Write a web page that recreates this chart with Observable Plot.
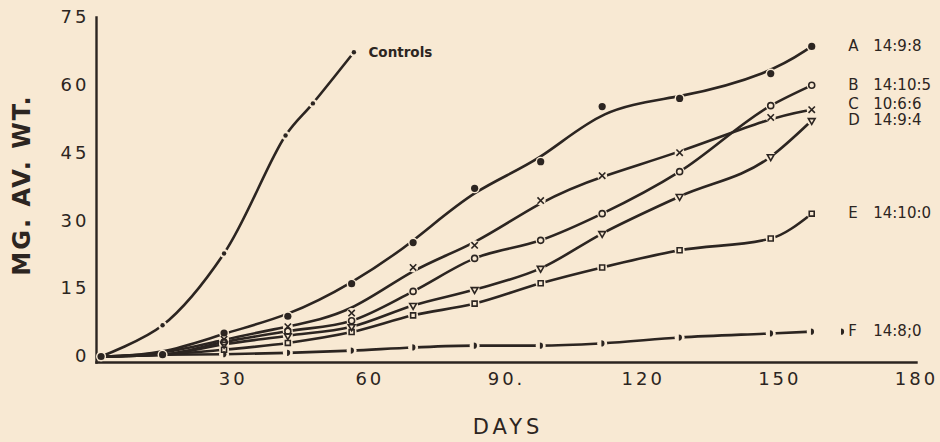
<!DOCTYPE html>
<html>
<head>
<meta charset="utf-8">
<script src="https://cdn.jsdelivr.net/npm/d3@7"></script>
<script src="https://cdn.jsdelivr.net/npm/@observablehq/plot@0.6"></script>
<style>
  html, body { margin: 0; padding: 0; background: #f8e9d3; }
  #chart { width: 940px; height: 442px; }
</style>
</head>
<body>
<div id="chart"></div>
<script>
// ---- data ----
const days = [1, 14.5, 28, 42, 56, 69.5, 83, 97.5, 111, 128, 148, 157];
const controlDays = [1, 14.5, 28, 41.5, 47.5, 56.5];
const controlWt = [0, 6.9, 22.8, 48.9, 56, 67.3];
const seriesNames = ["A", "B", "C", "D", "E", "F"];
const ratios = ["14:9:8", "14:10:5", "10:6:6", "14:9:4", "14:10:0", "14:8;0"];
const wtA = [0, 0.4, 5.2, 8.9, 16.1, 25.2, 37.2, 43.1, 55.3, 57.1, 62.6, 68.6];
const wtB = [0, 0.4, 3.2, 5.6, 7.9, 14.4, 21.7, 25.7, 31.6, 40.9, 55.5, 60.0];
const wtC = [0, 0.4, 3.8, 6.6, 9.6, 19.7, 24.6, 34.5, 40.0, 45.1, 52.9, 54.6];
const wtD = [0, 0.4, 2.7, 4.6, 6.6, 11.3, 14.8, 19.5, 27.2, 35.4, 44.2, 52.2];
const wtE = [0, 0.4, 1.5, 3.0, 5.4, 9.1, 11.7, 16.2, 19.7, 23.5, 26.1, 31.6];
const wtF = [0, 0.4, 0.5, 0.8, 1.3, 2.0, 2.4, 2.4, 2.9, 4.2, 5.1, 5.5];
const xTicks = [30, 60, 90, 120, 150, 180];
const yTicks = [0, 15, 30, 45, 60, 75];
const controlLabel = "Controls";

// ---- styling ----
const ink = "#2c2521";
const bg = "#f8e9d3";
const font = "DejaVu Sans, sans-serif";

const values = [wtA, wtB, wtC, wtD, wtE, wtF];
const rows = [];
seriesNames.forEach((s, k) => {
  days.forEach((d, i) => rows.push({series: s, day: d, wt: values[k][i], i}));
});
const controls = controlDays.map((d, i) => ({day: d, wt: controlWt[i]}));
const lastRows = seriesNames.map((s, k) => ({series: s, ratio: ratios[k], day: days[days.length - 1], wt: values[k][days.length - 1]}));

const markerRows = rows.filter(r => r.series === "A" || r.i >= 2);
const halfDisc = {
  draw(ctx, size) {
    const r = Math.sqrt(size / Math.PI);
    ctx.moveTo(-r * 0.3, -r * 1.2);
    ctx.arc(-r * 0.3, 0, r * 1.2, -Math.PI / 2, Math.PI / 2);
    ctx.closePath();
  }
};

const styleFor = {
  A: {symbol: "circle", r: 3.6, fill: ink, stroke: "none", curve: "basis"},
  B: {symbol: "circle", r: 3, fill: "none", stroke: ink, curve: "monotone-x"},
  C: {symbol: "times", r: 3.0, fill: "none", stroke: ink, curve: "basis"},
  D: {symbol: "triangle", r: 2.5, fill: "none", stroke: ink, rotate: 180, curve: "monotone-x"},
  E: {symbol: "square", r: 2.8, fill: "none", stroke: ink, curve: "monotone-x"},
  F: {symbol: halfDisc, r: 2.6, fill: ink, stroke: "none", curve: "monotone-x"}
};
const labelDy = {A: 0, B: 0, C: -6, D: 0, E: 0, F: 0};

const marks = [
  Plot.frame({anchor: "left", stroke: ink, strokeWidth: 2.4}),
  Plot.frame({anchor: "bottom", stroke: ink, strokeWidth: 2.4}),
  Plot.axisY({ticks: yTicks, tickSize: 0, tickPadding: 7, fontSize: 18, label: null,
    tickFormat: d => String(d)}),
  Plot.axisX({ticks: xTicks, tickSize: 0, tickPadding: 10, fontSize: 18, label: null,
    tickFormat: d => d === 90 ? "90." : String(d)}),
  Plot.line(controls, {x: "day", y: "wt", curve: "catmull-rom", stroke: ink, strokeWidth: 2.6}),
];
seriesNames.forEach(s => {
  marks.push(Plot.line(rows.filter(r => r.series === s), {x: "day", y: "wt", curve: styleFor[s].curve,
    stroke: ink, strokeWidth: 2.6}));
});
marks.push(
  Plot.dot(markerRows, {x: "day", y: "wt", r: 5, fill: bg, stroke: "none"}),
  Plot.dot(controls, {x: "day", y: "wt", r: 4.5, fill: bg, stroke: "none"}),
  Plot.dot(controls, {x: "day", y: "wt", r: 2.2, fill: ink, stroke: "none"})
);
seriesNames.forEach(s => {
  const st = styleFor[s];
  marks.push(Plot.dot(markerRows.filter(r => r.series === s), {
    x: "day", y: "wt", symbol: st.symbol, r: st.r, fill: st.fill, stroke: st.stroke,
    strokeWidth: 1.6, rotate: st.rotate || 0
  }));
  const lr = lastRows.filter(r => r.series === s);
  marks.push(Plot.text(lr, {x: d => d.day + 8, y: "wt", text: "series", textAnchor: "start",
    dy: labelDy[s], fontSize: 15, fill: ink}));
  marks.push(Plot.text(lr, {x: d => d.day + 13.5, y: "wt", text: "ratio", textAnchor: "start",
    dy: labelDy[s], fontSize: 15, fill: ink, letterSpacing: 0.9}));
});
// legend-like marker before F label
marks.push(Plot.dot(lastRows.filter(r => r.series === "F"), {x: d => d.day + 6.6, y: "wt",
  symbol: halfDisc, r: 2.6, fill: ink}));
marks.push(Plot.text(controls.slice(-1), {x: d => d.day + 3.2, y: "wt", text: () => controlLabel,
  textAnchor: "start", fontSize: 13.5, fontWeight: "bold", fill: ink, letterSpacing: 2.4}));

const chart = Plot.plot({
  width: 940,
  height: 442,
  marginLeft: 96,
  marginRight: 24,
  marginTop: 17,
  marginBottom: 80,
  x: {domain: [0, 180]},
  y: {domain: [-1.33, 75]},
  style: {background: bg, color: ink, fontFamily: font, overflow: "visible"},
  marks
});

// axis titles as real text in the SVG
const svg = d3.select(chart);
svg.append("text")
  .attr("transform", "translate(30,185) rotate(-90)")
  .attr("text-anchor", "middle")
  .attr("font-size", 24).attr("font-weight", "bold")
  .attr("letter-spacing", 2)
  .attr("fill", ink)
  .text("MG. AV. WT.");
svg.append("text")
  .attr("x", 508).attr("y", 434)
  .attr("text-anchor", "middle")
  .attr("font-size", 21)
  .attr("letter-spacing", 4)
  .attr("fill", ink)
  .text("DAYS");
svg.selectAll("g[aria-label='y-axis tick label'] text, g[aria-label='x-axis tick label'] text")
  .attr("letter-spacing", 3);

document.getElementById("chart").appendChild(chart);
</script>
</body>
</html>
